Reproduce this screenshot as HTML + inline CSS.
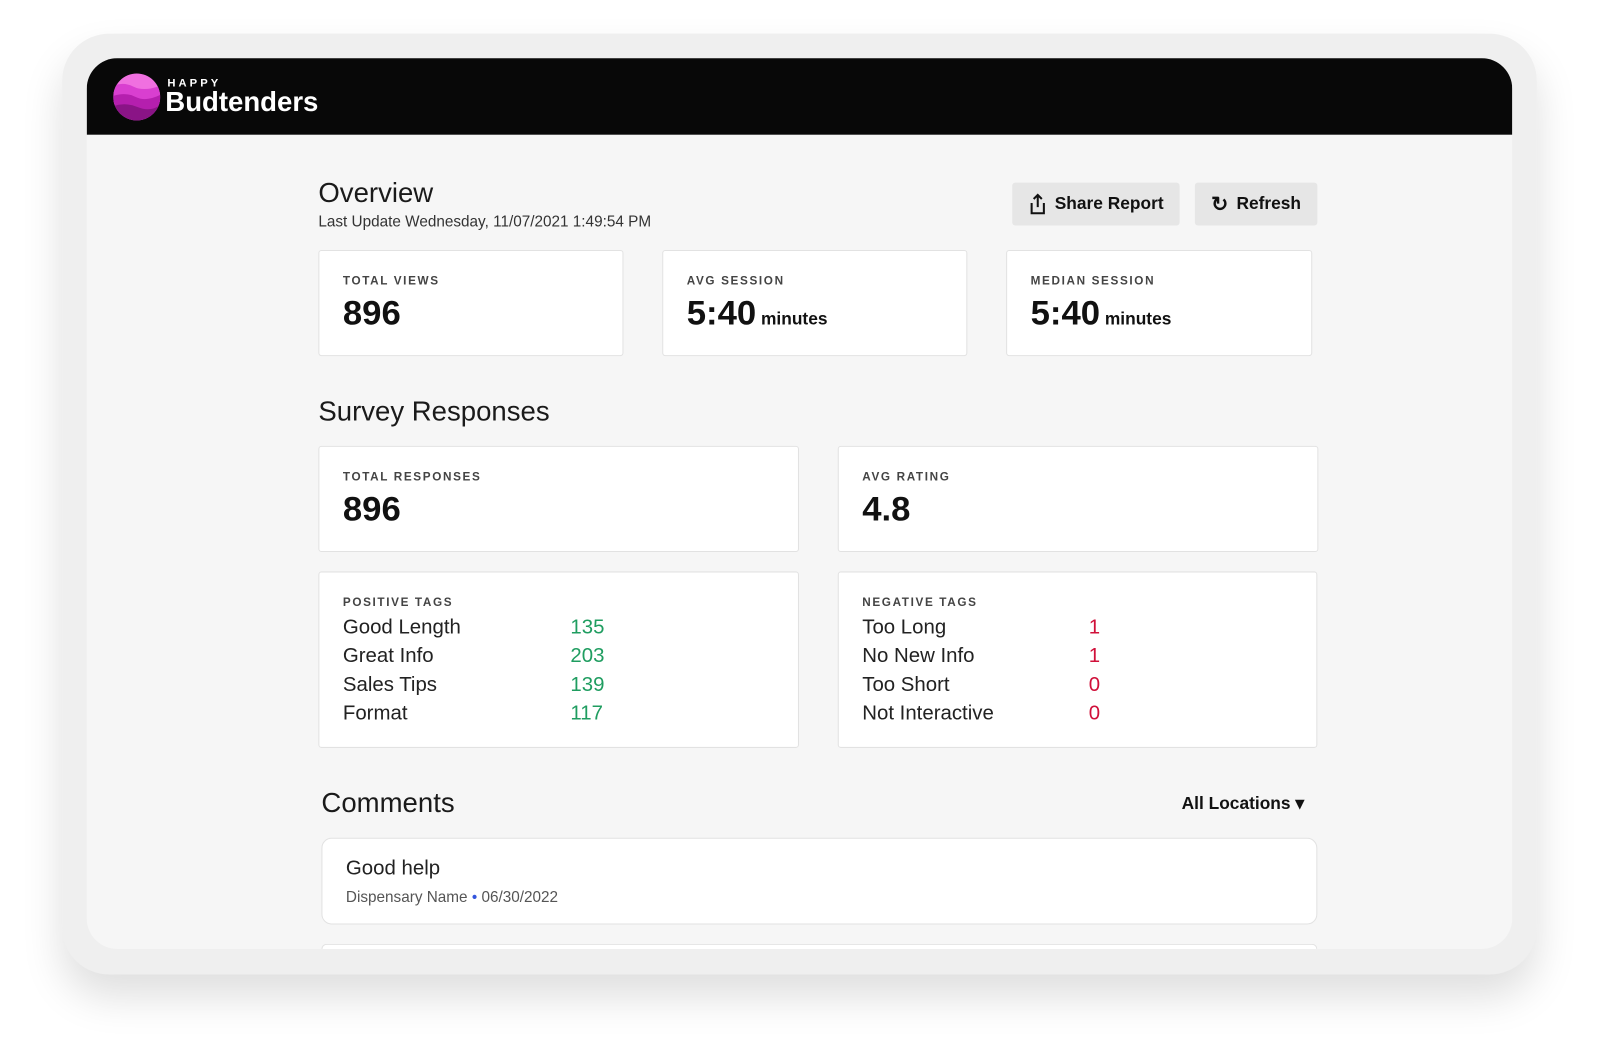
<!DOCTYPE html>
<html><head><meta charset="utf-8"><style>
*{box-sizing:border-box;margin:0;padding:0}
body{width:1600px;height:1037px;background:#fff;font-family:"Liberation Sans",sans-serif;position:relative;overflow:hidden;color:#111}
#wrap{position:absolute;left:0;top:0;width:1568px;height:1016px;transform:scale(1.0204);transform-origin:0 0}
.abs{position:absolute}
.frame{left:61px;top:33px;width:1445px;height:922px;background:#efefef;border-radius:46px;box-shadow:0 22px 40px rgba(0,0,0,.13)}
.screen{left:85px;top:57px;width:1397px;height:873px;background:#f6f6f6;border-radius:30px;overflow:hidden}
.header{left:0;top:0;width:1397px;height:75px;background:#080808}
.card{background:#fff;border:1px solid #e2e2e2;border-radius:3px;position:absolute}
.lbl{font-size:11.5px;letter-spacing:1.6px;color:#444;font-weight:bold;position:absolute;left:23px}
.big{font-size:34px;font-weight:bold;position:absolute;left:23px}
.big small{font-size:17px}
.tag{position:absolute;left:23px;font-size:20px;color:#222;line-height:28px}
.val{position:absolute;font-size:20px;line-height:28px}
.btn{background:#e6e6e6;border-radius:3px;font-size:17px;font-weight:bold;display:flex;align-items:center;justify-content:center;gap:8px;position:absolute}
h2{font-weight:normal;position:absolute;font-size:27px;color:#1a1a1a}
</style></head><body>
<div id="wrap">
<div class="abs frame"></div>
<div class="abs screen">
 <div class="abs header">
  <svg class="abs" style="left:26px;top:15px" width="46" height="46"><defs><clipPath id="c"><circle cx="23" cy="23" r="23"/></clipPath></defs><g clip-path="url(#c)"><rect width="46" height="46" fill="#f070e0"/><path d="M0 12 Q10 8 20 13 T46 12 V46 H0Z" fill="#d93fd0"/><path d="M0 22 Q12 18 22 23 T46 21 V46 H0Z" fill="#b51fae"/><path d="M0 32 Q12 28 24 33 T46 31 V46 H0Z" fill="#8a1486"/></g></svg>
  <div class="abs" style="left:79px;top:19px;font-size:11px;font-weight:bold;letter-spacing:3px;color:#fff">HAPPY</div>
  <div class="abs" style="left:77px;top:28px;font-size:27px;font-weight:bold;color:#fff">Budtenders</div>
 </div>
</div>
<h2 style="left:312px;top:174px">Overview</h2>
<div class="abs" style="left:312px;top:209px;font-size:15px;color:#333">Last Update Wednesday, 11/07/2021 1:49:54 PM</div>
<div class="btn" style="left:992px;top:179px;width:164px;height:42px"><svg width="18" height="22" viewBox="0 0 18 22"><path d="M9 2v12M5 6l4-4 4 4M3 10v10h12V10" fill="none" stroke="#111" stroke-width="2"/></svg>Share Report</div>
<div class="btn" style="left:1171px;top:179px;width:120px;height:42px"><span style="font-size:20px">&#8635;</span>Refresh</div>

<div class="card" style="left:312px;top:245px;width:299px;height:104px"><div class="lbl" style="top:24px">TOTAL VIEWS</div><div class="big" style="top:42px">896</div></div>
<div class="card" style="left:649px;top:245px;width:299px;height:104px"><div class="lbl" style="top:24px">AVG SESSION</div><div class="big" style="top:42px">5:40<small> minutes</small></div></div>
<div class="card" style="left:986px;top:245px;width:300px;height:104px"><div class="lbl" style="top:24px">MEDIAN SESSION</div><div class="big" style="top:42px">5:40<small> minutes</small></div></div>

<h2 style="left:312px;top:388px">Survey Responses</h2>
<div class="card" style="left:312px;top:437px;width:471px;height:104px"><div class="lbl" style="top:24px">TOTAL RESPONSES</div><div class="big" style="top:42px">896</div></div>
<div class="card" style="left:821px;top:437px;width:471px;height:104px"><div class="lbl" style="top:24px">AVG RATING</div><div class="big" style="top:42px">4.8</div></div>

<div class="card" style="left:312px;top:560px;width:471px;height:173px"><div class="lbl" style="top:24px">POSITIVE TAGS</div>
 <div class="tag" style="top:40px">Good Length<br>Great Info<br>Sales Tips<br>Format</div>
 <div class="val" style="left:246px;top:40px;color:#1f9d60">135<br>203<br>139<br>117</div></div>
<div class="card" style="left:821px;top:560px;width:470px;height:173px"><div class="lbl" style="top:24px">NEGATIVE TAGS</div>
 <div class="tag" style="top:40px">Too Long<br>No New Info<br>Too Short<br>Not Interactive</div>
 <div class="val" style="left:245px;top:40px;color:#d0103a">1<br>1<br>0<br>0</div></div>

<h2 style="left:315px;top:772px">Comments</h2>
<div class="abs" style="left:1158px;top:778px;font-size:17px;font-weight:bold">All Locations &#9662;</div>
<div class="card" style="left:315px;top:821px;width:976px;height:85px;border-radius:10px">
 <div class="abs" style="left:23px;top:18px;font-size:20px;color:#222">Good help</div>
 <div class="abs" style="left:23px;top:49px;font-size:15px;color:#555">Dispensary Name <span style="color:#3355dd">•</span> 06/30/2022</div></div>
<div class="card" style="left:315px;top:925px;width:976px;height:5px;border-bottom:none;border-radius:10px 10px 0 0"></div>
</div>
</body></html>
